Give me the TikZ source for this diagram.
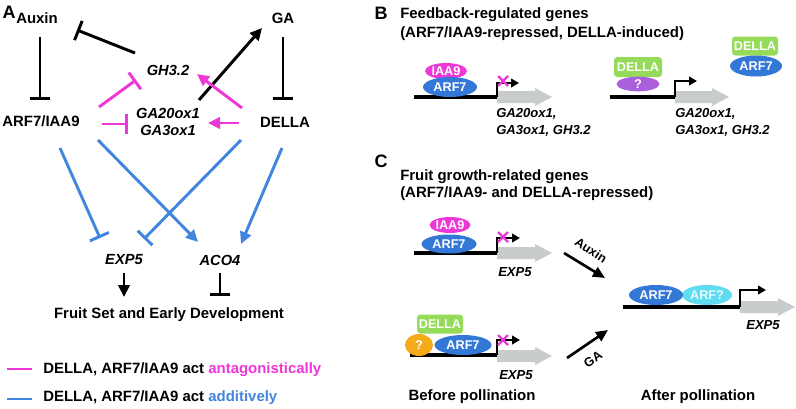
\documentclass[tikz,border=0pt]{standalone}
\usepackage{fontspec}
\setmainfont{Liberation Sans}
\usetikzlibrary{arrows.meta,shapes.geometric}
\definecolor{magc}{RGB}{238,55,215}
\definecolor{bluel}{RGB}{66,133,222}
\definecolor{arfc}{RGB}{52,120,215}
\definecolor{dellac}{RGB}{150,218,90}
\definecolor{purc}{RGB}{170,95,220}
\definecolor{orc}{RGB}{245,170,25}
\definecolor{cyc}{RGB}{95,220,240}
\definecolor{grayc}{RGB}{200,204,204}
\newcommand\grarrow[4]{% name, x start, y, x end
  \fill[grayc] ({#2},{#3-6}) -- ({#4-17},{#3-6}) -- ({#4-17},{#3-9}) -- ({#4},{#3}) -- ({#4-17},{#3+9}) -- ({#4-17},{#3+6}) -- ({#2},{#3+6}) -- cycle;
  \coordinate (#1) at ({#2},{#3});}
\newcommand\pinkx[3]{% name, x, y
  \coordinate (#1) at ({#2},{#3});
  \draw[magc, line width=1.8pt] ({#2-5},{#3-5}) -- ({#2+5},{#3+5}) ({#2-5},{#3+5}) -- ({#2+5},{#3-5});}
\begin{document}
\begin{tikzpicture}[x=0.75pt,y=-0.75pt,
  txt/.style={font=\fontsize{11.2}{13}\selectfont\bfseries, inner sep=0pt},
  gene/.style={font=\fontsize{11}{13}\selectfont\bfseries\itshape, inner sep=0pt},
  geneS/.style={font=\fontsize{9.8}{12}\selectfont\bfseries\itshape, inner sep=0pt, anchor=west},
  panel/.style={font=\fontsize{13.5}{15}\selectfont\bfseries, inner sep=0pt},
  prot/.style={font=\fontsize{9.5}{11}\selectfont\bfseries, text=white, inner sep=0pt},
  arfE/.style={prot, ellipse, fill=arfc},
  iaaE/.style={prot, ellipse, fill=magc},
  dellaB/.style={prot, rectangle, rounded corners=2.5pt, fill=dellac},
  lnA/.style={line width=2.2pt},
  inh/.style={lnA, -{Bar[width=15.5pt]}},
  act/.style={lnA, -{Triangle[length=9pt,width=8.5pt]}},
  prom/.style={line width=1.8pt, -{Triangle[length=6pt,width=6.5pt]}},
  dna/.style={line width=3pt},
  carrow/.style={line width=2pt, -{Triangle[length=9pt,width=8pt]}},
  rotlbl/.style={font=\fontsize{9.5}{11}\selectfont\bfseries, inner sep=0pt}]
\useasboundingbox (0,0) rectangle (796,408);

% ---------------- Panel A ----------------
\node[panel] (lblA) at (9,12) {A};
\node[txt] (auxin) at (37,18) {Auxin};
\node[txt] (ga) at (283,18) {GA};
\node[txt] (arf) at (41,121) {ARF7/IAA9};
\node[txt] (della) at (285,122) {DELLA};
\node[gene] (gh3) at (168,70) {GH3.2};
\node[gene, align=center] (ga20) at (168,122) {GA20ox1\\GA3ox1};
\node[gene] (exp5) at (124,260) {EXP5};
\node[gene] (aco4) at (220,260) {ACO4};
\node[txt] (fruit) at (169,315) {Fruit Set and Early Development};

\coordinate (auxS) at (40,37);   \coordinate (arfT) at (40,100);
\coordinate (gaS) at (283,37);   \coordinate (dellaT) at (283,100);
\coordinate (ghS) at (135,53);   \coordinate (auxT) at (77,30);
\coordinate (arfS1) at (99,107); \coordinate (ghT1) at (136,80);
\coordinate (arfS2) at (102,124);\coordinate (gaoT1) at (128,124);
\coordinate (delS1) at (242,108);\coordinate (ghT2) at (197,74);
\coordinate (delS2) at (239,123);\coordinate (gaoT2) at (208,123);
\coordinate (gaoS) at (199,100); \coordinate (gaT) at (262,28);
\coordinate (arfS3) at (60,148); \coordinate (expT1) at (100,238);
\coordinate (arfS4) at (98,140); \coordinate (acoT1) at (198,242);
\coordinate (delS3) at (241,140);\coordinate (expT2) at (144,239);
\coordinate (delS4) at (282,148);\coordinate (acoT2) at (241,244);
\coordinate (expS) at (124,273); \coordinate (fruitT1) at (124,297);
\coordinate (acoS) at (220,273); \coordinate (fruitT2) at (220,296);

\draw[inh] (auxS) -- (arfT);
\draw[inh] (gaS) -- (dellaT);
\draw[inh] (ghS) -- (auxT);
\draw[act] (gaoS) -- (gaT);
\draw[inh, magc] (arfS1) -- (ghT1);
\draw[inh, magc] (arfS2) -- (gaoT1);
\draw[act, magc] (delS1) -- (ghT2);
\draw[act, magc] (delS2) -- (gaoT2);
\draw[inh, bluel] (arfS3) -- (expT1);
\draw[act, bluel] (arfS4) -- (acoT1);
\draw[inh, bluel] (delS3) -- (expT2);
\draw[act, bluel] (delS4) -- (acoT2);
\draw[act] (expS) -- (fruitT1);
\draw[inh] (acoS) -- (fruitT2);

% legend
\coordinate (lgm1) at (7,369); \coordinate (lgm2) at (32,369);
\coordinate (lgb1) at (7,399); \coordinate (lgb2) at (32,399);
\draw[lnA, magc] (lgm1) -- (lgm2);
\draw[lnA, bluel] (lgb1) -- (lgb2);
\node[txt, anchor=west] (leg1) at (43,370) {DELLA, ARF7/IAA9 act \textcolor{magc}{antagonistically}};
\node[txt, anchor=west] (leg2) at (43,398) {DELLA, ARF7/IAA9 act \textcolor{bluel}{additively}};

% ---------------- Panel B ----------------
\node[panel] (lblB) at (381,13) {B};
\node[txt, anchor=west] (tB1) at (400,15) {Feedback-regulated genes};
\node[txt, anchor=west] (tB2) at (400,34) {(ARF7/IAA9-repressed, DELLA-induced)};

% left gene
\coordinate (dB1s) at (414,97); \coordinate (dB1e) at (497,97);
\draw[dna] (dB1s) -- (dB1e);
\grarrow{gB1}{497}{97}{552}
\coordinate (pB1a) at (497,83); \coordinate (pB1b) at (519,83);
\draw[prom] (dB1e) -- (pB1a) -- (pB1b);
\pinkx{xB1}{503}{81}
\node[iaaE, minimum width=31.5pt, minimum height=12pt] (iaaB) at (446,71) {IAA9};
\node[arfE, minimum width=40.5pt, minimum height=15pt] (arfB) at (450,87) {ARF7};
\node[geneS] (gtB1a) at (496,114) {GA20ox1,};
\node[geneS] (gtB1b) at (496,131) {GA3ox1, GH3.2};

% right gene
\coordinate (dB2s) at (610,97); \coordinate (dB2e) at (675,97);
\draw[dna] (dB2s) -- (dB2e);
\grarrow{gB2}{675}{97}{729}
\coordinate (pB2a) at (675,81); \coordinate (pB2b) at (697,81);
\draw[prom] (dB2e) -- (pB2a) -- (pB2b);
\node[dellaB, minimum width=36pt, minimum height=15pt] (dellaB2) at (638,67) {DELLA};
\node[prot, ellipse, fill=purc, minimum width=32.25pt, minimum height=11pt] (qB) at (638,84) {?};
\node[geneS] (gtB2a) at (675,114) {GA20ox1,};
\node[geneS] (gtB2b) at (675,131) {GA3ox1, GH3.2};

% floating complex
\node[dellaB, minimum width=34.5pt, minimum height=14.25pt] (dellaF) at (755,46) {DELLA};
\node[arfE, minimum width=39pt, minimum height=15.75pt] (arfF) at (756,66) {ARF7};

% ---------------- Panel C ----------------
\node[panel] (lblC) at (381,161) {C};
\node[txt, anchor=west] (tC1) at (400,177) {Fruit growth-related genes};
\node[txt, anchor=west] (tC2) at (400,194) {(ARF7/IAA9- and DELLA-repressed)};

% top row (before)
\coordinate (dC1s) at (414,253); \coordinate (dC1e) at (497,253);
\draw[dna] (dC1s) -- (dC1e);
\grarrow{gC1}{497}{253}{552}
\coordinate (pC1a) at (497,238); \coordinate (pC1b) at (520,238);
\draw[prom] (dC1e) -- (pC1a) -- (pC1b);
\pinkx{xC1}{503}{237}
\node[iaaE, minimum width=28.5pt, minimum height=12pt] (iaaC) at (450,225) {IAA9};
\node[arfE, minimum width=41.25pt, minimum height=14.25pt] (arfC1) at (449,244) {ARF7};
\node[geneS] (eC1) at (498,272) {EXP5};

% bottom row (before)
\coordinate (dC2s) at (410,355); \coordinate (dC2e) at (497,355);
\draw[dna] (dC2s) -- (dC2e);
\grarrow{gC2}{497}{356}{552}
\coordinate (pC2a) at (497,340); \coordinate (pC2b) at (520,340);
\draw[prom] (dC2e) -- (pC2a) -- (pC2b);
\pinkx{xC2}{503}{340}
\node[dellaB, minimum width=34.5pt, minimum height=14.25pt] (dellaC) at (440,324) {DELLA};
\node[prot, ellipse, fill=orc, minimum width=21pt, minimum height=16.5pt] (qC) at (419,345) {?};
\node[arfE, minimum width=42.75pt, minimum height=15pt] (arfC2) at (463,345) {ARF7};
\node[geneS] (eC2) at (499,375) {EXP5};

% transition arrows
\coordinate (auxA) at (564,253); \coordinate (auxB) at (605,278);
\draw[carrow] (auxA) -- (auxB);
\node[rotlbl, rotate=-33] (auxL) at (591,250) {Auxin};
\coordinate (gaA) at (567,358); \coordinate (gaB) at (608,330);
\draw[carrow] (gaA) -- (gaB);
\node[rotlbl, rotate=35] (gaL) at (593,359) {GA};

% after pollination
\coordinate (dC3s) at (623,307); \coordinate (dC3e) at (740,307);
\draw[dna] (dC3s) -- (dC3e);
\grarrow{gC3}{740}{307}{795}
\coordinate (pC3a) at (740,290); \coordinate (pC3b) at (766,290);
\draw[prom] (dC3e) -- (pC3a) -- (pC3b);
\node[prot, ellipse, fill=cyc, text=white!85!cyc, minimum width=37.5pt, minimum height=15pt] (arfq) at (707,295) {ARF?};
\node[arfE, minimum width=40.5pt, minimum height=15pt] (arfC3) at (656,295) {ARF7};
\node[geneS, anchor=center] (eC3) at (763,325) {EXP5};

\node[txt] (before) at (472,397) {Before pollination};
\node[txt] (after) at (698,397) {After pollination};
\end{tikzpicture}
\end{document}
